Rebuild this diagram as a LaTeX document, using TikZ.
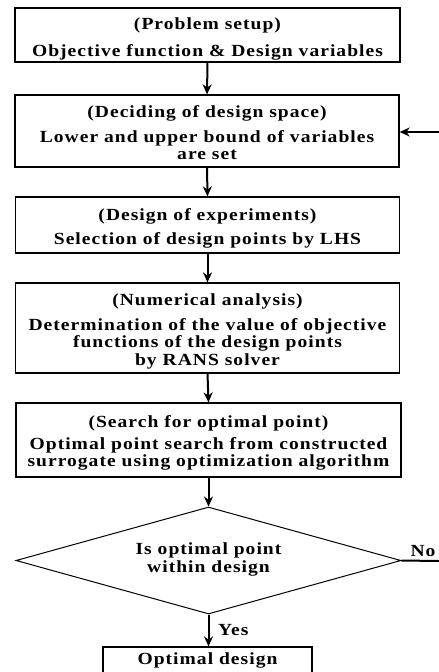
\documentclass[tikz,border=0pt]{standalone}
\usepackage{fontspec}
\setmainfont{Liberation Serif}[LetterSpace=6,FakeStretch=1.15]
\usetikzlibrary{shapes.geometric,arrows.meta}
\begin{document}
\begin{tikzpicture}[x=1pt,y=1pt,
  box/.style={draw,line width=1.3pt,rectangle,inner sep=0pt},
  txt/.style={inner sep=0pt,align=center,font=\fontsize{17}{17.5}\selectfont\bfseries},
  flow/.style={line width=2pt,-{Stealth[length=10pt,width=9pt]}}]
\useasboundingbox (0,0) rectangle (439,-672);
\begin{scope}
\clip (0,0) rectangle (439,-672);
\node[box,minimum width=385pt,minimum height=54pt] (b1) at (207.5,-35) {};
\node[txt] (b1t) at ([yshift=-4pt]b1.center) {(Problem setup)\\[9pt]Objective function \& Design variables};
\node[box,minimum width=384pt,minimum height=72pt] (b2) at (207,-131) {};
\node[txt] (b2t) at ([yshift=-2pt]b2.center) {(Deciding of design space)\\[7pt]Lower and upper bound of variables\\are set};
\node[box,minimum width=384pt,minimum height=56pt] (b3) at (207.5,-225) {};
\node[txt] (b3t) at ([yshift=-3.5pt]b3.center) {(Design of experiments)\\[7pt]Selection of design points by LHS};
\node[box,minimum width=384pt,minimum height=90pt] (b4) at (207.5,-328) {};
\node[txt] (b4t) at ([yshift=-3.5pt]b4.center) {(Numerical analysis)\\[7pt]Determination of the value of objective\\functions of the design points\\by RANS solver};
\node[box,minimum width=385pt,minimum height=74pt] (b5) at (208.5,-440) {};
\node[txt] (b5t) at ([yshift=-3pt]b5.center) {(Search for optimal point)\\[4pt]Optimal point search from constructed\\surrogate using optimization algorithm};
\node[draw,line width=1pt,diamond,aspect=3.6,minimum width=385pt,minimum height=107pt,inner sep=0pt] (d) at (208.5,-560.5) {};
\node[txt] (dt) at (208.5,-559.5) {Is optimal point\\within design};
\node[box,minimum width=209pt,minimum height=30pt] (opt) at (207.5,-662) {};
\node[txt] (optt) at (207.5,-660) {Optimal design};
\coordinate (fb) at (439,-132);
\coordinate (no) at (439,-561);
\draw[flow] (b1.south) -- (b2.north);
\draw[flow] (b2.south) -- (b3.north);
\draw[flow] (b3.south) -- (b4.north);
\draw[flow] (b4.south) -- (b5.north);
\draw[flow] (b5.south) -- (d.north);
\draw[flow] (d.south) -- (d.south |- opt.north);
\draw[flow] (fb) -- (fb -| b2.east);
\draw[line width=2pt] (d.east) -- (no);
\node[txt,anchor=west] (yes) at (218,-630) {Yes};
\node[txt] (nolbl) at (423,-551) {No};
\end{scope}
\end{tikzpicture}
\end{document}
